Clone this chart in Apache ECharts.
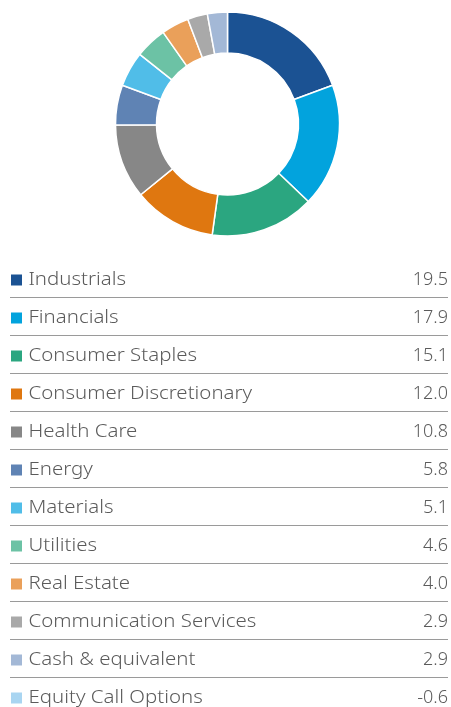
<!DOCTYPE html>
<html>
<head>
<meta charset="utf-8">
<script src="https://cdn.jsdelivr.net/npm/echarts@6/dist/echarts.min.js"></script>
<style>
html,body{margin:0;padding:0;background:#fff;}
#chart{width:451px;height:707px;}
</style>
</head>
<body>
<div id="chart"></div>
<script>
const categories = ['Industrials','Financials','Consumer Staples','Consumer Discretionary','Health Care','Energy','Materials','Utilities','Real Estate','Communication Services','Cash & equivalent','Equity Call Options'];
const values = [19.5,17.9,15.1,12.0,10.8,5.8,5.1,4.6,4.0,2.9,2.9,-0.6];
const valueLabels = ['19.5','17.9','15.1','12.0','10.8','5.8','5.1','4.6','4.0','2.9','2.9','-0.6'];
const colors = ['#1b5293','#02a3dd','#2ba680','#df7710','#878787','#5f83b4','#50bde8','#6cc2a5','#eaa05a','#a9a9a9','#a3b8d6','#a9d5f1'];

const chart = echarts.init(document.getElementById('chart'), null, {renderer:'canvas'});

const pieData = categories.map((c,i)=>({name:c, value:values[i], itemStyle:{color:colors[i]}})).filter(d=>d.value>0);

const rowTop = 280, rowGap = 38;
const font = '"Noto Sans", sans-serif';
const graphics = [];
categories.forEach((c,i)=>{
  const y = rowTop + i*rowGap;
  graphics.push({type:'rect', shape:{x:11, y:y-5.5, width:11, height:11}, style:{fill:colors[i]}, silent:true});
  graphics.push({type:'text', x:28.5, y:y, scaleX:1.135, style:{text:c, fill:'#5b5b5b', font:'300 18px '+font, textVerticalAlign:'middle', textAlign:'left'}, silent:true});
  graphics.push({type:'text', x:448, y:y, style:{text:valueLabels[i], fill:'#5b5b5b', font:'300 18px '+font, textVerticalAlign:'middle', textAlign:'right'}, silent:true});
  if (i < categories.length-1) {
    graphics.push({type:'line', shape:{x1:10, y1:y+17.5, x2:448, y2:y+17.5}, style:{stroke:'#9a9a9a', lineWidth:1}, silent:true});
  }
});

chart.setOption({
  animation:false,
  series:[{
    type:'pie',
    center:[227.5,124],
    radius:[71,112],
    startAngle:90,
    clockwise:true,
    silent:true,
    label:{show:false},
    labelLine:{show:false},
    itemStyle:{borderColor:'#fff', borderWidth:1.5},
    data:pieData
  }],
  graphic:graphics
});
</script>
</body>
</html>
